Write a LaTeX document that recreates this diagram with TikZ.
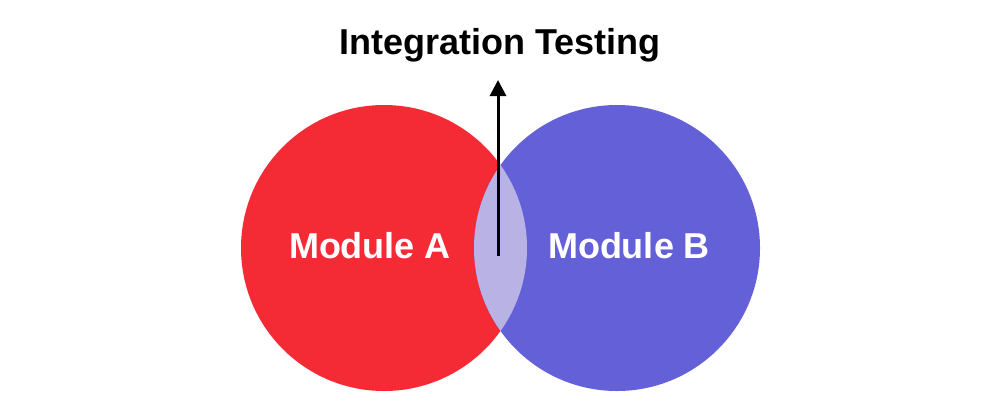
\documentclass[tikz,border=0pt]{standalone}
\usepackage{fontspec}
\setmainfont{Liberation Sans}
\usetikzlibrary{arrows.meta}
\definecolor{cred}{HTML}{F42A35}
\definecolor{cblue}{HTML}{6461D8}
\definecolor{clens}{HTML}{B9B3E5}
\begin{document}
\begin{tikzpicture}[x=1pt,y=-1pt,
  lbl/.style={font=\fontsize{36}{40}\selectfont\bfseries,text=white}]
\useasboundingbox (0,0) rectangle (1000,410);
\fill[white] (0,0) rectangle (1000,410);
\fill[cred] (384,248) circle (143);
\fill[cblue] (617,248) circle (143);
\begin{scope}
\clip (384,248) circle (143);
\fill[clens] (617,248) circle (143);
\end{scope}
\node[lbl] (a) at (370,246) {Module A};
\node[lbl] (b) at (629,246) {Module B};
\node[font=\fontsize{36}{40}\selectfont\bfseries] (t) at (500,45) {Integration Testing};
\coordinate (s) at (498,256);
\coordinate (e) at (498,80);
\draw[line width=3pt,-{Triangle[length=16pt,width=16pt]}] (s) -- (e);
\end{tikzpicture}
\end{document}
